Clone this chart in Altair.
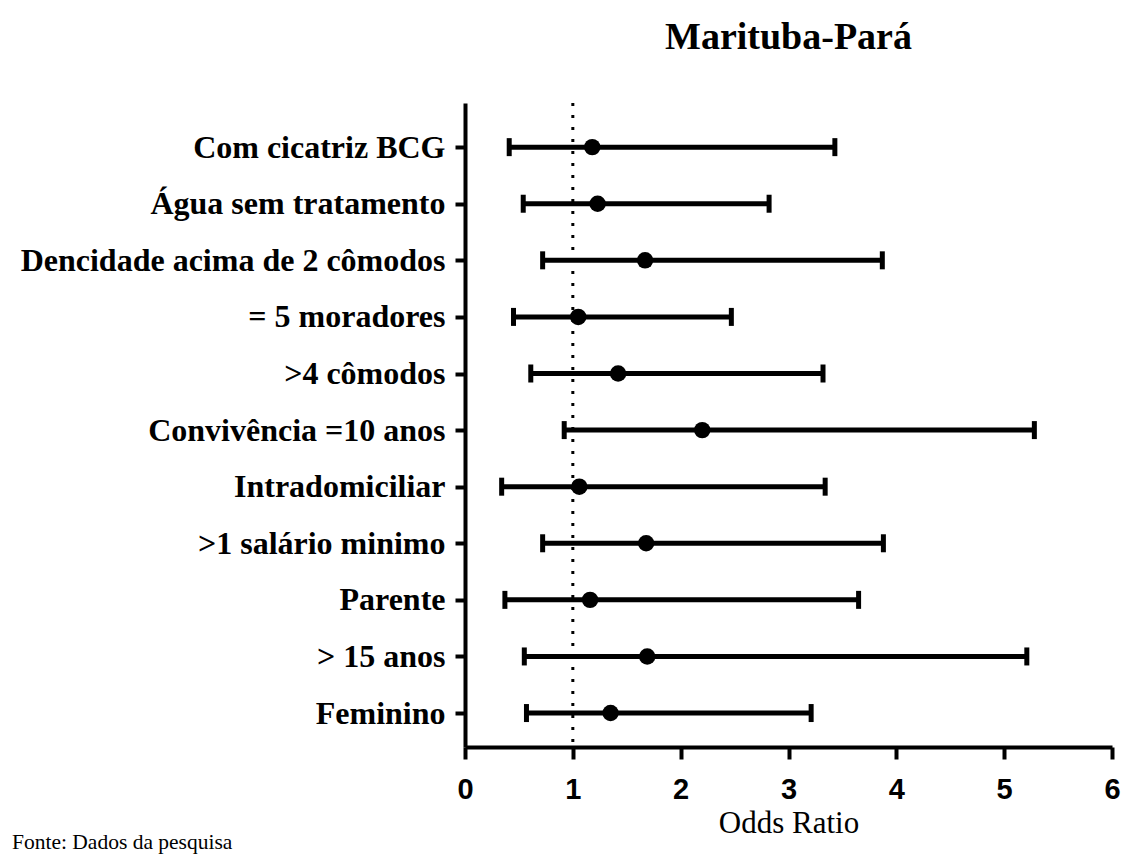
import altair as alt
import pandas as pd

# Categories listed bottom (index 0) to top (index 10)
categories = [
    "Feminino",
    "> 15 anos",
    "Parente",
    ">1 salário minimo",
    "Intradomiciliar",
    "Convivência =10 anos",
    ">4 cômodos",
    "= 5 moradores",
    "Dencidade acima de 2 cômodos",
    "Água sem tratamento",
    "Com cicatriz BCG",
]
odds_ratio = [1.35, 1.69, 1.16, 1.68, 1.06, 2.20, 1.42, 1.05, 1.67, 1.23, 1.18]
ci_lower = [0.57, 0.55, 0.37, 0.72, 0.34, 0.92, 0.61, 0.45, 0.72, 0.54, 0.41]
ci_upper = [3.21, 5.21, 3.65, 3.88, 3.34, 5.28, 3.32, 2.47, 3.87, 2.82, 3.43]
x_ticks = [0, 1, 2, 3, 4, 5, 6]

df = pd.DataFrame({
    "idx": list(range(len(categories))),
    "cat": categories,
    "or": odds_ratio,
    "lo": ci_lower,
    "hi": ci_upper,
})

label_array = "[" + ",".join("'" + c.replace("'", "\\'") + "'" for c in categories) + "]"

x_scale = alt.Scale(domain=[0, 6], nice=False, zero=False)
y_scale = alt.Scale(domain=[-0.6, 10.78], nice=False, zero=False)

x_axis = alt.Axis(
    values=x_ticks, format="d", title="Odds Ratio", grid=False, labelFlush=False,
    domainColor="black", domainWidth=4, tickColor="black", tickWidth=4, tickSize=12,
    labelFont="Liberation Sans Narrow, Arial Narrow, Liberation Sans", labelFontWeight="bold",
    labelFontSize=29, labelColor="black", labelPadding=16,
    titleFont="Liberation Serif", titleFontWeight="normal", titleFontSize=31,
    titleColor="black", titlePadding=4,
)
y_axis = alt.Axis(
    values=list(range(len(categories))), title=None, grid=False,
    labelExpr=label_array + "[datum.value]", labelLimit=0, labelFlush=False,
    domainColor="black", domainWidth=4, tickColor="black", tickWidth=4, tickSize=10,
    labelFont="Liberation Serif", labelFontWeight="bold", labelFontSize=32,
    labelColor="black", labelPadding=10,
)

base = alt.Chart(df)

ref = alt.Chart(pd.DataFrame({"v": [1]})).mark_rule(
    color="black", strokeWidth=3, strokeDash=[3, 9]
).encode(x=alt.X("v:Q", scale=x_scale, axis=x_axis))

bars = base.mark_rule(color="black", strokeWidth=5).encode(
    x=alt.X("lo:Q", scale=x_scale, axis=x_axis),
    x2="hi:Q",
    y=alt.Y("idx:Q", scale=y_scale, axis=y_axis),
)
cap_lo = base.mark_tick(color="black", thickness=5, size=18, orient="vertical", opacity=1).encode(
    x=alt.X("lo:Q", scale=x_scale, axis=x_axis), y=alt.Y("idx:Q", scale=y_scale, axis=y_axis)
)
cap_hi = base.mark_tick(color="black", thickness=5, size=18, orient="vertical", opacity=1).encode(
    x=alt.X("hi:Q", scale=x_scale, axis=x_axis), y=alt.Y("idx:Q", scale=y_scale, axis=y_axis)
)
dots = base.mark_circle(color="black", size=270, opacity=1).encode(
    x=alt.X("or:Q", scale=x_scale, axis=x_axis), y=alt.Y("idx:Q", scale=y_scale, axis=y_axis)
)

source = alt.Chart(pd.DataFrame({"t": ["Fonte: Dados da pesquisa"]})).mark_text(
    font="Liberation Serif", fontSize=21.5, color="black", align="left", baseline="middle"
).encode(text="t:N", x=alt.value(-453), y=alt.value(740))

chart = alt.layer(ref, bars, cap_lo, cap_hi, dots, source).properties(
    width=647,
    height=644,
    title=alt.Title(
        "Marituba-Pará", font="Liberation Serif", fontWeight="bold", fontSize=38,
        color="black", anchor="middle", offset=45,
    ),
    padding={"left": 457, "top": 95, "right": 10, "bottom": 120},
    autosize=alt.AutoSizeParams(type="none"),
).configure(background="white").configure_view(stroke=None, strokeWidth=0).configure_axis(grid=False)

chart.save("out.html", embed_options={"renderer": "svg", "actions": False})
